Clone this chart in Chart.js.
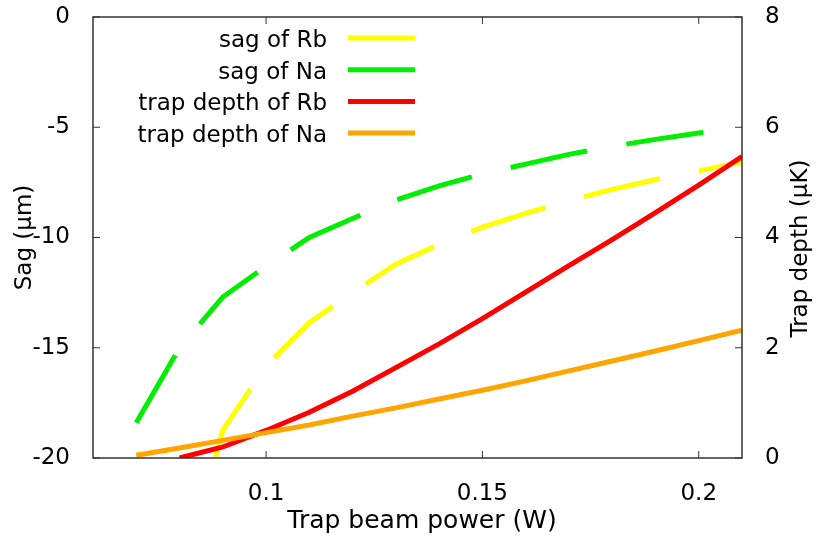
<!DOCTYPE html>
<html>
<head>
<meta charset="utf-8">
<script src="https://cdn.jsdelivr.net/npm/chart.js@4.4.0/dist/chart.umd.min.js"></script>
<style>
  html, body { margin: 0; padding: 0; background: #fff; }
</style>
</head>
<body>
<canvas id="chart" width="816" height="541"></canvas>
<script>
// ── DATA ──
const powerAll = [0.07, 0.08, 0.09, 0.10, 0.11, 0.12, 0.13, 0.14, 0.15, 0.16, 0.17, 0.18, 0.19, 0.20, 0.21]
const powerSagRb = [0.0883, 0.09, 0.10, 0.11, 0.12, 0.13, 0.14, 0.15, 0.16, 0.17, 0.18, 0.19, 0.20, 0.21]
const powerDepthRb = [0.08, 0.09, 0.10, 0.11, 0.12, 0.13, 0.14, 0.15, 0.16, 0.17, 0.18, 0.19, 0.20, 0.21]

const sagRb = [-20, -18.73, -15.83, -13.86, -12.49, -11.21, -10.31, -9.53, -8.91, -8.32, -7.82, -7.37, -6.98, -6.57]
const sagNa = [-18.4, -15.0, -12.7, -11.3, -10.0, -9.14, -8.3, -7.66, -7.12, -6.67, -6.23, -5.87, -5.55, -5.26, -5.0]
const depthRb = [0, 0.2, 0.5, 0.83, 1.21, 1.64, 2.07, 2.53, 3.01, 3.49, 3.96, 4.45, 4.95, 5.47]
const depthNa = [0.05, 0.18, 0.32, 0.46, 0.60, 0.76, 0.91, 1.07, 1.23, 1.40, 1.58, 1.76, 1.94, 2.13, 2.32]

const xTicks = [0.1, 0.15, 0.2]
const labels = ['sag of Rb', 'sag of Na', 'trap depth of Rb', 'trap depth of Na']
const colors = ['#ffff00', '#00ee00', '#ff0000', '#ffa500']

const FONT = { family: 'DejaVu Sans', size: 23 }
const AXIS = '#333333'

const pts = (xs, ys) => xs.map((x, i) => ({ x, y: ys[i] }))

// no extra room for the end labels, the plot box sets it
const fitV = w => s => { s.width = w; s.paddingTop = 0; s.paddingBottom = 0 }

// ── FRAME, TICKS, LEGEND, TITLES (gnuplot look) ──
const framePlugin = {
  id: 'frame',
  afterDatasetsDraw(chart) {
    const { ctx, chartArea: a, scales } = chart
    ctx.save()
    ctx.strokeStyle = AXIS
    ctx.lineWidth = 1.5
    ctx.strokeRect(a.left, a.top, a.right - a.left, a.bottom - a.top)

    // inward ticks
    const tl = 7
    ctx.lineWidth = 1
    ctx.beginPath()
    xTicks.forEach(v => {
      const px = scales.x.getPixelForValue(v)
      ctx.moveTo(px, a.bottom); ctx.lineTo(px, a.bottom - tl)
      ctx.moveTo(px, a.top); ctx.lineTo(px, a.top + tl)
    })
    scales.y.ticks.forEach(t => {
      const py = scales.y.getPixelForValue(t.value)
      ctx.moveTo(a.left, py); ctx.lineTo(a.left + tl, py)
    })
    scales.y2.ticks.forEach(t => {
      const py = scales.y2.getPixelForValue(t.value)
      ctx.moveTo(a.right, py); ctx.lineTo(a.right - tl, py)
    })
    ctx.stroke()

    // legend: text right-aligned, sample line to the right
    ctx.font = `${FONT.size}px ${FONT.family}`
    ctx.fillStyle = '#000'
    ctx.textAlign = 'right'
    ctx.textBaseline = 'alphabetic'
    chart.data.datasets.forEach((ds, i) => {
      const y = 38 + i * 31.7
      ctx.fillText(ds.label, 327, y + 9)
      ctx.strokeStyle = ds.borderColor
      ctx.lineWidth = 5
      ctx.setLineDash([])
      ctx.beginPath()
      ctx.moveTo(348, y); ctx.lineTo(415, y)
      ctx.stroke()
    })

    // x title
    ctx.font = `25px ${FONT.family}`
    ctx.textAlign = 'center'
    ctx.textBaseline = 'middle'
    ctx.fillText('Trap beam power (W)', 422, 521)

    // right axis title, reads bottom to top
    ctx.font = `${FONT.size}px ${FONT.family}`
    ctx.translate(801, (a.top + a.bottom) / 2 + 11)
    ctx.rotate(-Math.PI / 2)
    ctx.fillText('Trap depth (μK)', 0, 0)
    ctx.restore()
  }
}

const ctx = document.getElementById('chart')
new Chart(ctx, {
  type: 'line',
  data: {
    datasets: [
      { label: labels[0], data: pts(powerSagRb, sagRb), yAxisID: 'y', borderColor: colors[0], borderDash: [78, 40], order: 4 },
      { label: labels[1], data: pts(powerAll, sagNa), yAxisID: 'y', borderColor: colors[1], borderDash: [78, 40], order: 3 },
      { label: labels[2], data: pts(powerDepthRb, depthRb), yAxisID: 'y2', borderColor: colors[2], order: 2 },
      { label: labels[3], data: pts(powerAll, depthNa), yAxisID: 'y2', borderColor: colors[3], order: 1 }
    ]
  },
  options: {
    responsive: false,
    animation: false,
    devicePixelRatio: 1,
    layout: { padding: { top: 17, left: 0, right: 0, bottom: 0 } },
    elements: {
      line: { borderWidth: 5, tension: 0, fill: false },
      point: { radius: 0 }
    },
    plugins: { legend: { display: false }, tooltip: { enabled: false } },
    scales: {
      x: {
        type: 'linear', min: 0.06, max: 0.21,
        afterBuildTicks: s => { s.ticks = xTicks.map(v => ({ value: v })) },
        afterFit: s => { s.height = 83; s.paddingLeft = 0; s.paddingRight = 0 },
        ticks: { font: FONT, color: '#000', padding: 22, maxRotation: 0, autoSkip: false, callback: v => String(v) },
        grid: { display: false, drawTicks: false },
        border: { display: false }
      },
      y: {
        position: 'left', min: -20, max: 0,
        afterFit: fitV(93),
        ticks: { font: FONT, color: '#000', padding: 23, stepSize: 5 },
        grid: { display: false, drawTicks: false },
        border: { display: false },
        title: { display: true, text: 'Sag (μm)', font: FONT, color: '#000', padding: { top: 11, bottom: 0 } }
      },
      y2: {
        position: 'right', min: 0, max: 8,
        afterFit: fitV(74),
        ticks: { font: FONT, color: '#000', padding: 23, stepSize: 2 },
        grid: { display: false, drawTicks: false },
        border: { display: false }
      }
    }
  },
  plugins: [framePlugin]
})
</script>
</body>
</html>
